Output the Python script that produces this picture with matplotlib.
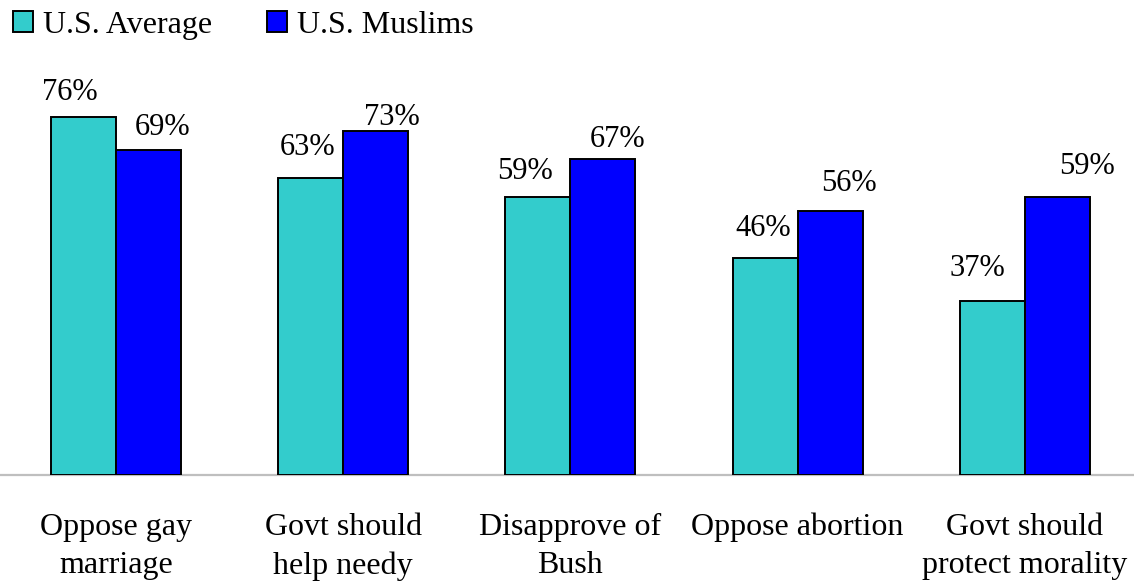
import matplotlib
matplotlib.use("Agg")
import matplotlib.pyplot as plt
from matplotlib.patches import Patch
import numpy as np

categories = ["Oppose gay\nmarriage", "Govt should\nhelp needy", "Disapprove of\nBush",
              "Oppose abortion", "Govt should\nprotect morality"]
us_average = [76, 63, 59, 46, 37]
us_muslims = [69, 73, 67, 56, 59]
series_names = ["U.S. Average", "U.S. Muslims"]

# label offsets in pixels (dx, dy) from the top-centre of each bar
avg_off = [(-14, 25), (-3, 31), (-13, 26), (-2, 30), (-15, 32)]
mus_off = [(14, 23), (16, 14), (15, 20), (19, 28), (30, 31)]

plt.rcParams['font.family'] = ['Liberation Serif', 'DejaVu Serif']
W, H = 1134, 582
fig = plt.figure(figsize=(W / 100, H / 100), dpi=100)
base = (H - 475) / H
ax = fig.add_axes([0, base, 1, 1 - base])
x = np.arange(len(categories))
bw = 0.286
teal, blue = "#33CCCC", "#0000FF"
b1 = ax.bar(x - bw / 2, us_average, bw, color=teal, edgecolor="black", linewidth=1.4, zorder=3)
b2 = ax.bar(x + bw / 2, us_muslims, bw, color=blue, edgecolor="black", linewidth=1.4, zorder=3)
ax.set_xlim(-0.51, 4.48)
ax.set_ylim(0, 475 / 4.71)
for s in ["top", "right", "left"]:
    ax.spines[s].set_visible(False)
ax.spines["bottom"].set_color("#BFBFBF")
ax.spines["bottom"].set_linewidth(1.6)
ax.set_yticks([])
ax.set_xticks([])

fs = 23
fsp = 22
for xi, v, (dx, dy) in zip(x - bw / 2, us_average, avg_off):
    ax.annotate(f"{v}%", (xi, v), xytext=(dx, dy), textcoords="offset pixels",
                ha="center", va="center", fontsize=fsp)
for xi, v, (dx, dy) in zip(x + bw / 2, us_muslims, mus_off):
    ax.annotate(f"{v}%", (xi, v), xytext=(dx, dy), textcoords="offset pixels",
                ha="center", va="center", fontsize=fsp)

for xi, c in zip(x, categories):
    ax.annotate(c, (xi, 0), xytext=(0, -(513 - 475)), textcoords="offset pixels",
                ha="center", va="top", fontsize=fs, linespacing=1.42)

handles = [Patch(facecolor=teal, edgecolor="black", linewidth=1.4),
           Patch(facecolor=blue, edgecolor="black", linewidth=1.4)]
fig.legend(handles, series_names, loc="upper left", bbox_to_anchor=(13 / W, 1 - 11 / H),
           ncol=2, frameon=False, fontsize=fs, handlelength=0.63, handleheight=0.63,
           handletextpad=0.31, columnspacing=1.72, borderpad=0, borderaxespad=0)

fig.savefig("out.png", dpi=100)
